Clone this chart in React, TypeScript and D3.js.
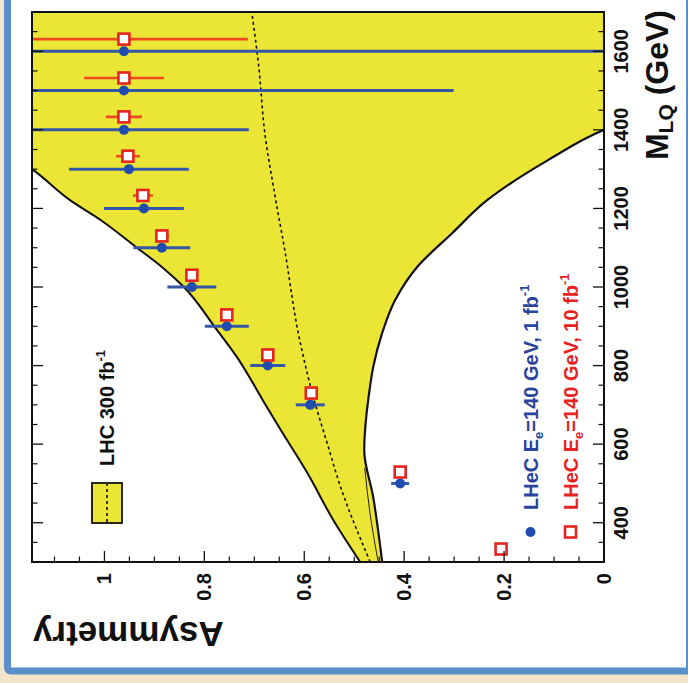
import React from 'react';
import * as d3 from 'd3';

// ---- data (M_LQ in GeV, asymmetry) ----
const blueMass = [500, 700, 800, 900, 1000, 1100, 1200, 1300, 1400, 1500, 1600];
const blueAsym = [0.408, 0.588, 0.673, 0.755, 0.825, 0.885, 0.921, 0.951, 0.961, 0.961, 0.961];
const blueErr = [0.018, 0.029, 0.035, 0.044, 0.049, 0.057, 0.08, 0.12, 0.25, 0.66, 1.5];

const redMass = [333, 529, 730, 827, 929, 1030, 1130, 1233, 1333, 1433, 1532, 1631];
const redAsym = [0.206, 0.408, 0.586, 0.673, 0.755, 0.825, 0.885, 0.923, 0.953, 0.961, 0.961, 0.961];
const redErr = [0.005, 0.005, 0.007, 0.009, 0.011, 0.012, 0.014, 0.02, 0.024, 0.036, 0.08, 0.248];

const bandUpperMass = [300, 407, 527, 636, 712, 822, 898, 1000, 1051, 1102, 1170, 1221, 1298, 1330];
const bandUpperAsym = [0.488, 0.542, 0.594, 0.647, 0.683, 0.735, 0.779, 0.841, 0.885, 0.937, 1.007, 1.069, 1.143, 1.18];
const bandLowerMass = [300, 465, 585, 669, 712, 796, 883, 967, 1051, 1137, 1221, 1323, 1400, 1420];
const bandLowerAsym = [0.444, 0.462, 0.48, 0.476, 0.472, 0.462, 0.444, 0.418, 0.374, 0.304, 0.234, 0.112, 0.0, -0.04];
const bandLower2Mass = [300, 420, 540];
const bandLower2Asym = [0.452, 0.468, 0.479];
const centralMass = [300, 509, 585, 730, 883, 1094, 1221, 1392, 1560, 1700];
const centralAsym = [0.468, 0.532, 0.55, 0.584, 0.612, 0.639, 0.657, 0.679, 0.691, 0.705];

const massMajorTicks = [400, 600, 800, 1000, 1200, 1400, 1600];
const massMinorTicks = [300, 350, 450, 500, 550, 650, 700, 750, 850, 900, 950, 1050, 1100, 1150, 1250, 1300, 1350, 1450, 1500, 1550, 1650, 1700];
const asymMajorTicks = [0, 0.2, 0.4, 0.6, 0.8, 1];
const asymTickLabels = ['0', '0.2', '0.4', '0.6', '0.8', '1'];
const asymMinorTicks = [0.05, 0.1, 0.15, 0.25, 0.3, 0.35, 0.45, 0.5, 0.55, 0.65, 0.7, 0.75, 0.85, 0.9, 0.95, 1.05, 1.1];

const W = 688;
const H = 683;
const FONT = 'Liberation Sans, Arial, Helvetica, sans-serif';
const YELLOW = '#ebe635';
const BLUE = '#1f4cae';
const BLUE_BAR = '#3557a8';
const BLUE_TEXT = '#2a439c';
const RED = '#e5231f';
const RED_BAR = '#ee4a22';

export default function App() {
  // unrotated frame: u along mass axis, v along asymmetry axis
  const u0 = 121, u1 = 671, vTop = 32, vBot = 604;
  const xM = d3.scaleLinear().domain([300, 1700]).range([u0, u1]);
  const yA = d3.scaleLinear().domain([0, 1.145]).range([vBot, vTop]);

  const line = d3
    .line<[number, number]>()
    .x((d) => xM(d[0]))
    .y((d) => yA(d[1]))
    .curve(d3.curveMonotoneX);

  const upperPts = bandUpperMass.map((m, i) => [m, bandUpperAsym[i]] as [number, number]);
  const lowerPts = bandLowerMass.map((m, i) => [m, bandLowerAsym[i]] as [number, number]);
  const lower2Pts = bandLower2Mass.map((m, i) => [m, bandLower2Asym[i]] as [number, number]);
  const centralPts = centralMass.map((m, i) => [m, centralAsym[i]] as [number, number]);

  const upperPath = line(upperPts) as string;
  const lowerRevPath = line([...lowerPts].reverse()) as string;
  const bandPath =
    upperPath +
    `L${xM(1750)},${yA(1.3)}L${xM(1750)},${yA(-0.1)}` +
    'L' +
    lowerRevPath.slice(1) +
    'Z';

  const sq = 11;

  return (
    <svg width={W} height={H} style={{ position: 'absolute', left: 0, top: 0 }} xmlns="http://www.w3.org/2000/svg">
      <defs>
        <clipPath id="plotClip">
          <rect x={u0} y={vTop} width={u1 - u0} height={vBot - vTop} />
        </clipPath>
      </defs>
      <rect x={0} y={0} width={W} height={H} fill="#f2e4c8" />
      <rect x={7.5} y={-20} width={682} height={691} rx={3} fill="#ffffff" stroke="#5b8fcb" strokeWidth={7} />

      <g transform={`translate(0,${H}) rotate(-90)`} fontFamily={FONT}>
        <g clipPath="url(#plotClip)">
          <path d={bandPath} fill={YELLOW} stroke="none" />
          <path d={upperPath} fill="none" stroke="#111" strokeWidth={2} />
          <path d={line(lowerPts) as string} fill="none" stroke="#111" strokeWidth={2.2} />
          <path d={line(lower2Pts) as string} fill="none" stroke="#222" strokeWidth={1} />
          <path d={line(centralPts) as string} fill="none" stroke="#111" strokeWidth={1.6} strokeDasharray="3,3" />

          {blueMass.map((m, i) => (
            <line
              key={'be' + i}
              x1={xM(m)}
              x2={xM(m)}
              y1={yA(blueAsym[i] - blueErr[i])}
              y2={yA(blueAsym[i] + blueErr[i])}
              stroke={BLUE_BAR}
              strokeWidth={3}
            />
          ))}
          {blueMass.map((m, i) => (
            <circle key={'bp' + i} cx={xM(m)} cy={yA(blueAsym[i])} r={5} fill={BLUE} />
          ))}
          {redMass.map((m, i) => (
            <line
              key={'re' + i}
              x1={xM(m)}
              x2={xM(m)}
              y1={yA(redAsym[i] - redErr[i])}
              y2={yA(redAsym[i] + redErr[i])}
              stroke={RED_BAR}
              strokeWidth={2.6}
            />
          ))}
          {redMass.map((m, i) => (
            <rect
              key={'rp' + i}
              x={xM(m) - sq / 2}
              y={yA(redAsym[i]) - sq / 2}
              width={sq}
              height={sq}
              fill="#ffffff"
              stroke={RED}
              strokeWidth={2.6}
            />
          ))}
        </g>

        {/* frame */}
        <rect x={u0} y={vTop} width={u1 - u0} height={vBot - vTop} fill="none" stroke="#111" strokeWidth={2} />

        {/* mass ticks, both sides */}
        {massMajorTicks.map((m) => (
          <g key={'mM' + m}>
            <line x1={xM(m)} x2={xM(m)} y1={vBot} y2={vBot - 11} stroke="#111" strokeWidth={1.3} />
            <line x1={xM(m)} x2={xM(m)} y1={vTop} y2={vTop + 11} stroke="#111" strokeWidth={1.3} />
          </g>
        ))}
        {massMinorTicks.map((m) => (
          <g key={'mm' + m}>
            <line x1={xM(m)} x2={xM(m)} y1={vBot} y2={vBot - 5.5} stroke="#111" strokeWidth={1.2} />
            <line x1={xM(m)} x2={xM(m)} y1={vTop} y2={vTop + 5.5} stroke="#111" strokeWidth={1.2} />
          </g>
        ))}
        {/* asymmetry ticks */}
        {asymMajorTicks.map((a) => (
          <line key={'aM' + a} x1={u0} x2={u0 + 11} y1={yA(a)} y2={yA(a)} stroke="#111" strokeWidth={1.3} />
        ))}
        {asymMinorTicks.map((a) => (
          <line key={'am' + a} x1={u0} x2={u0 + 5.5} y1={yA(a)} y2={yA(a)} stroke="#111" strokeWidth={1.2} />
        ))}

        {/* tick labels */}
        {massMajorTicks.map((m) => (
          <text key={'ml' + m} x={xM(m)} y={628} textAnchor="middle" fontSize={20} fontWeight="bold" fill="#111">
            {m}
          </text>
        ))}
        {asymMajorTicks.map((a, i) => (
          <text key={'al' + a} x={110} y={yA(a) + 7} textAnchor="end" fontSize={20} fontWeight="bold" fill="#111">
            {asymTickLabels[i]}
          </text>
        ))}

        {/* axis titles */}
        <text x={673} y={668} textAnchor="end" fontSize={32} fontWeight="bold" fill="#111">
          M<tspan fontSize={21} dy={5}>LQ</tspan>
          <tspan dy={-5}> (GeV)</tspan>
        </text>
        <text transform="translate(61,33) rotate(-90)" textAnchor="end" fontSize={35} fontWeight="bold" fill="#111">
          Asymmetry
        </text>

        {/* LHC legend */}
        <rect x={160} y={92} width={40} height={30} fill={YELLOW} stroke="#111" strokeWidth={1.8} />
        <line x1={161} x2={199} y1={107} y2={107} stroke="#111" strokeWidth={1.6} strokeDasharray="3,3" />
        <text x={217} y={114} fontSize={20} fontWeight="bold" fill="#111">
          LHC 300 fb<tspan fontSize={13} dy={-9}>-1</tspan>
        </text>

        {/* LHeC legend */}
        <circle cx={151} cy={530.5} r={5} fill={BLUE} />
        <text x={173} y={538} fontSize={20} fontWeight="bold" fill={BLUE_TEXT}>
          LHeC E<tspan fontSize={13} dy={5}>e</tspan>
          <tspan dy={-5}>=140 GeV, 1 fb</tspan>
          <tspan fontSize={13} dy={-9}>-1</tspan>
        </text>
        <rect x={151 - sq / 2} y={570.5 - sq / 2} width={sq} height={sq} fill="#fff" stroke={RED} strokeWidth={2.6} />
        <text x={173} y={578} fontSize={20} fontWeight="bold" fill={RED}>
          LHeC E<tspan fontSize={13} dy={5}>e</tspan>
          <tspan dy={-5}>=140 GeV, 10 fb</tspan>
          <tspan fontSize={13} dy={-9}>-1</tspan>
        </text>
      </g>
    </svg>
  );
}
